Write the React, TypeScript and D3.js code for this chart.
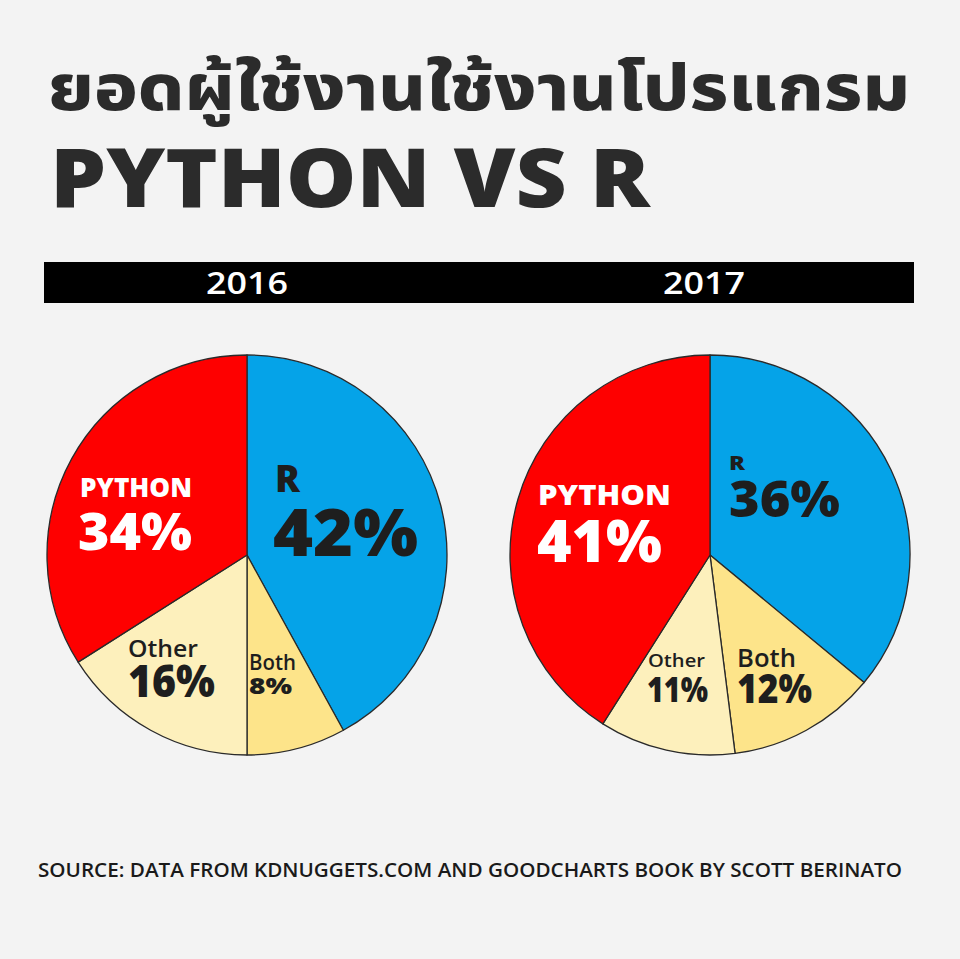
import React from "react";
import * as d3 from "d3";

const TITLE_TH = "ยอดผู้ใช้งานใช้งานโปรแกรม";
const TITLE_EN = "PYTHON VS R";
const YEARS = ["2016", "2017"];
const CATEGORIES = ["R", "Both", "Other", "PYTHON"];
const VALUES_2016 = [42, 8, 16, 34];
const VALUES_2017 = [36, 12, 11, 41];
const SOURCE = "SOURCE: DATA FROM KDNUGGETS.COM AND GOODCHARTS BOOK BY SCOTT BERINATO";

const COLORS: Record<string, string> = {
  R: "#05a3e8",
  Both: "#fde48a",
  Other: "#fdf0bc",
  PYTHON: "#fe0000",
};

const W = 960;
const H = 959;
const FONT = "'Open Sans', 'Noto Sans', sans-serif";

type Lab = { nx: number; ny: number; ns: number; nw: number; px: number; py: number; ps: number; pw: number; fill: string };
const LABELS: Record<string, Lab>[] = [
  {
    PYTHON: { nx: 80, ny: 497, ns: 26, nw: 112, px: 78, py: 550, ps: 52, pw: 114, fill: "#ffffff" },
    R: { nx: 275, ny: 492, ns: 37, nw: 25, px: 273, py: 556, ps: 66, pw: 145, fill: "#1e1e1e" },
    Other: { nx: 128, ny: 657, ns: 23, nw: 70, px: 128, py: 697, ps: 44, pw: 87, fill: "#1e1e1e" },
    Both: { nx: 249, ny: 670, ns: 21, nw: 47, px: 249, py: 694, ps: 23, pw: 43, fill: "#1e1e1e" },
  },
  {
    PYTHON: { nx: 538, ny: 505, ns: 29, nw: 133, px: 537, py: 562, ps: 59, pw: 125, fill: "#ffffff" },
    R: { nx: 729, ny: 470, ns: 20, nw: 16, px: 729, py: 517, ps: 50, pw: 111, fill: "#1e1e1e" },
    Other: { nx: 648, ny: 667, ns: 18, nw: 57, px: 647, py: 702, ps: 35, pw: 61, fill: "#1e1e1e" },
    Both: { nx: 737, ny: 667, ns: 25, nw: 59, px: 737, py: 703, ps: 41, pw: 75, fill: "#1e1e1e" },
  },
];

const PIES = [
  { cx: 247, cy: 555, r: 200, values: VALUES_2016, labelX: 247 },
  { cx: 710, cy: 555, r: 200, values: VALUES_2017, labelX: 704 },
];

export default function App() {
  const pie = d3
    .pie<number>()
    .sort(null)
    .value((d) => d)
    .startAngle(0)
    .endAngle(2 * Math.PI);

  return (
    <svg
      width={W}
      height={H}
      viewBox={`0 0 ${W} ${H}`}
      style={{ position: "absolute", left: 0, top: 0, background: "#f3f3f3", fontFamily: FONT }}
    >
      <rect x={0} y={0} width={W} height={H} fill="#f3f3f3" />
      <text
        x={48}
        y={110}
        fontSize={64}
        fontWeight={800}
        fill="#2b2b2b"
        textLength={862}
        lengthAdjust="spacingAndGlyphs"
        style={{ fontFamily: "'Noto Sans Thai', 'Noto Sans', 'Tahoma', sans-serif" }}
      >
        {TITLE_TH}
      </text>
      <text
        x={50}
        y={207}
        fontSize={82}
        fontWeight={800}
        fill="#2b2b2b"
        textLength={600}
        lengthAdjust="spacingAndGlyphs"
      >
        {TITLE_EN}
      </text>
      <rect x={44} y={262} width={870} height={41} fill="#000" />
      {PIES.map((p, i) => (
        <text
          key={YEARS[i]}
          x={p.labelX}
          y={294}
          fontSize={30}
          fontWeight={600}
          fill="#fff"
          textAnchor="middle"
          textLength={82}
          lengthAdjust="spacingAndGlyphs"
        >
          {YEARS[i]}
        </text>
      ))}
      {PIES.map((p, i) => {
        const arcs = pie(p.values);
        const arc = d3.arc<d3.PieArcDatum<number>>().innerRadius(0).outerRadius(p.r);
        return (
          <g key={"pie" + i}>
            <g transform={`translate(${p.cx},${p.cy})`}>
              {arcs.map((a, j) => (
                <path
                  key={CATEGORIES[j]}
                  d={arc(a) || ""}
                  fill={COLORS[CATEGORIES[j]]}
                  stroke="#2a2a2a"
                  strokeWidth={1.3}
                  strokeLinejoin="round"
                />
              ))}
            </g>
            {CATEGORIES.map((c, j) => {
              const l = LABELS[i][c];
              return (
                <g key={"lab" + c} fill={l.fill} fontWeight={800}>
                  <text
                    x={l.nx}
                    y={l.ny}
                    fontSize={l.ns}
                    fontWeight={c === "Other" || c === "Both" ? 600 : 800}
                    textLength={l.nw}
                    lengthAdjust="spacingAndGlyphs"
                  >
                    {c}
                  </text>
                  <text x={l.px} y={l.py} fontSize={l.ps} textLength={l.pw} lengthAdjust="spacingAndGlyphs">
                    {p.values[j] + "%"}
                  </text>
                </g>
              );
            })}
          </g>
        );
      })}
      <text
        x={38}
        y={877}
        fontSize={20}
        fontWeight={600}
        fill="#1a1a1a"
        textLength={864}
        lengthAdjust="spacingAndGlyphs"
      >
        {SOURCE}
      </text>
    </svg>
  );
}
